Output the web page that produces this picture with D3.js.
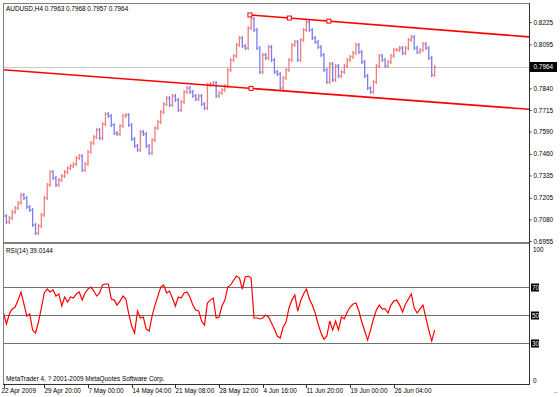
<!doctype html>
<html lang="en">
<head>
<meta charset="UTF-8">
<title>AUDUSD,H4</title>
<script src="https://d3js.org/d3.v7.min.js"></script>
<style>
  html, body { margin: 0; padding: 0; background: #fff; overflow: hidden; }
  svg text { font-family: "Liberation Sans", Arial, sans-serif; font-size: 6.4px; fill: #000; }
</style>
</head>
<body>
<div id="chart-area"></div>

<script>

// ---- data (H4 bars, one entry per plotted bar) ----
const firstOpen = 0.7117;
const closes = [
    0.7100, 0.7065, 0.7088, 0.7123, 0.7146, 0.7175, 0.7222, 0.7204, 0.7152, 0.7135,
    0.7048, 0.7001, 0.7042, 0.7106, 0.7204, 0.7280, 0.7355, 0.7320, 0.7280, 0.7309,
    0.7332, 0.7355, 0.7378, 0.7390, 0.7401, 0.7436, 0.7448, 0.7367, 0.7401, 0.7471,
    0.7523, 0.7558, 0.7599, 0.7552, 0.7633, 0.7691, 0.7680, 0.7628, 0.7581, 0.7575,
    0.7622, 0.7680, 0.7686, 0.7628, 0.7546, 0.7506, 0.7483, 0.7587, 0.7575, 0.7506,
    0.7465, 0.7541, 0.7610, 0.7645, 0.7703, 0.7749, 0.7784, 0.7744, 0.7796, 0.7773,
    0.7715, 0.7761, 0.7819, 0.7842, 0.7819, 0.7796, 0.7778, 0.7796, 0.7749, 0.7726,
    0.7860, 0.7865, 0.7871, 0.7796, 0.7813, 0.7831, 0.7854, 0.7947, 0.8005, 0.8028,
    0.8092, 0.8132, 0.8086, 0.8074, 0.8190, 0.8242, 0.8179, 0.8074, 0.7935, 0.8034,
    0.8016, 0.8080, 0.8005, 0.7935, 0.7923, 0.7842, 0.7900, 0.7947, 0.8005, 0.8092,
    0.8109, 0.8005, 0.8121, 0.8179, 0.8225, 0.8179, 0.8132, 0.8109, 0.8080, 0.8034,
    0.7947, 0.7877, 0.7981, 0.7889, 0.7970, 0.7912, 0.7935, 0.7970, 0.8005, 0.8022,
    0.8045, 0.8092, 0.8051, 0.7993, 0.7912, 0.7842, 0.7819, 0.7877, 0.7970, 0.8028,
    0.8005, 0.7970, 0.7993, 0.8028, 0.8063, 0.8063, 0.8074, 0.8045, 0.8074, 0.8121,
    0.8138, 0.8074, 0.8051, 0.8063, 0.8097, 0.8074, 0.8016, 0.7918, 0.7964
];
const rsiValues = [
    51.3, 43.4, 50.6, 54.2, 55.6, 60.6, 66.4, 57.8, 49.1, 50.6,
    39.0, 36.9, 44.8, 54.9, 65.7, 68.6, 66.4, 67.9, 63.5, 65.0,
    56.3, 62.8, 59.2, 62.8, 62.1, 65.0, 66.4, 60.6, 65.7, 68.6,
    70.0, 67.1, 63.5, 65.7, 71.5, 72.2, 72.2, 61.4, 60.6, 57.0,
    59.9, 63.5, 61.4, 50.6, 41.9, 36.9, 52.7, 47.7, 48.4, 39.7,
    38.3, 49.1, 57.0, 63.5, 70.0, 71.5, 65.7, 67.1, 62.1, 56.3,
    62.8, 62.1, 65.7, 66.4, 62.8, 57.0, 53.4, 52.7, 45.5, 42.6,
    58.5, 60.6, 62.1, 47.7, 48.4, 56.3, 60.6, 70.0, 71.5, 75.1,
    77.9, 76.5, 68.6, 77.2, 77.9, 76.5, 47.7, 47.7, 47.0, 47.7,
    49.8, 48.4, 44.1, 39.7, 34.7, 33.3, 41.2, 44.8, 54.9, 60.6,
    64.3, 52.7, 59.9, 65.0, 68.6, 61.4, 57.0, 51.2, 43.4, 36.9,
    32.5, 34.7, 45.5, 39.0, 45.5, 39.0, 48.4, 47.0, 52.0, 55.6,
    57.8, 58.5, 52.7, 44.8, 38.3, 31.8, 39.0, 47.0, 53.4, 57.0,
    54.2, 54.2, 51.3, 57.0, 59.9, 60.6, 57.0, 52.0, 57.8, 61.4,
    65.0, 54.9, 51.3, 54.2, 57.0, 47.7, 39.0, 31.1, 39.0144
];
const timeTickIdx = [0, 14, 29, 44, 59, 74, 89, 104, 119, 134];
const timeTickLabels = ['22 Apr 2009', '29 Apr 20:00', '7 May 00:00', '14 May 04:00', '21 May 08:00',
    '28 May 12:00', '4 Jun 16:00', '11 Jun 20:00', '19 Jun 00:00', '26 Jun 04:00'];
const priceTicks = [0.8225, 0.8095, 0.7840, 0.7715, 0.7590, 0.7460, 0.7335, 0.7205, 0.7080, 0.6955];
const lastPrice = 0.7964;
const rsiLevels = [70, 50, 30];
const rsiBounds = [100, 0];
// trend lines: two anchor points (bar index, price), drawn as rays to the right
const upperLine = [{ i: 84.6, p: 0.8266 }, { i: 111.7, p: 0.8230 }];
const lowerLine = [{ i: -40, p: 0.7999 }, { i: 210, p: 0.7681 }];
const headerText = 'AUDUSD,H4  0.7963 0.7968 0.7957 0.7964';
const rsiText = 'RSI(14) 39.0144';
const copyText = 'MetaTrader 4, ? 2001-2009 MetaQuotes Software Corp.';

// ---- layout ----
const W = 560, H = 397;
const left = 3, right = 529;
const mainTop = 3, mainBottom = 242;
const rsiTop = 244, rsiBottom = 384;
const step = 2.913;

const svg = d3.select('#chart-area')
    .append('svg')
    .attr('width', W)
    .attr('height', H);

svg.append('rect').attr('width', W).attr('height', H).attr('fill', '#fff');

const x = d3.scaleLinear().domain([0, 180]).range([3.5, 3.5 + 180 * step]);
const y = d3.scaleLinear().domain([0.6955, 0.8225]).range([241, 22]);
const yr = d3.scaleLinear().domain([0, 100]).range([384.2, 245.4]);

const defs = svg.append('defs');
defs.append('clipPath').attr('id', 'clip-main')
    .append('rect').attr('x', left).attr('y', mainTop).attr('width', right - left).attr('height', mainBottom - mainTop);
defs.append('clipPath').attr('id', 'clip-rsi')
    .append('rect').attr('x', left).attr('y', rsiTop).attr('width', right - left).attr('height', rsiBottom - rsiTop);

const main = svg.append('g').attr('clip-path', 'url(#clip-main)');
const rsiG = svg.append('g').attr('clip-path', 'url(#clip-rsi)');

// current price line
main.append('line')
    .attr('x1', left).attr('x2', right)
    .attr('y1', Math.round(y(lastPrice)) + 0.5).attr('y2', Math.round(y(lastPrice)) + 0.5)
    .attr('stroke', '#c8c8c8');

// bars: open -> close stem with open tick left and close tick right
const bars = closes.map((c, i) => ({ i, o: i === 0 ? firstOpen : closes[i - 1], c }));
const barG = main.selectAll('g.bar').data(bars)
    .enter().append('g')
    .attr('class', 'bar')
    .attr('stroke', d => d.c >= d.o ? '#f07c7c' : '#7c7cf0');
barG.append('line')
    .attr('x1', d => x(d.i)).attr('x2', d => x(d.i))
    .attr('y1', d => y(Math.max(d.o, d.c)) - 2)
    .attr('y2', d => y(Math.min(d.o, d.c)) + 2)
    .attr('stroke-width', 1.3);
barG.append('line')
    .attr('x1', d => x(d.i) - 1.5).attr('x2', d => x(d.i))
    .attr('y1', d => y(d.o)).attr('y2', d => y(d.o))
    .attr('stroke-width', 1);
barG.append('line')
    .attr('x1', d => x(d.i)).attr('x2', d => x(d.i) + 1.5)
    .attr('y1', d => y(d.c)).attr('y2', d => y(d.c))
    .attr('stroke-width', 1);

// trend lines
function drawTrend(pts) {
    const [a, b] = pts;
    const slope = (b.p - a.p) / (b.i - a.i);
    const endI = 200;
    main.append('line')
        .attr('x1', x(a.i)).attr('y1', y(a.p))
        .attr('x2', x(endI)).attr('y2', y(a.p + slope * (endI - a.i)))
        .attr('stroke', '#ff0000').attr('stroke-width', 1.6);
    const marks = [a, { i: (a.i + b.i) / 2, p: (a.p + b.p) / 2 }, b];
    main.selectAll(null).data(marks)
        .enter().append('rect')
        .attr('x', d => x(d.i) - 2).attr('y', d => y(d.p) - 2)
        .attr('width', 4).attr('height', 4)
        .attr('fill', '#fff').attr('stroke', '#ff0000').attr('stroke-width', 1);
}
drawTrend(upperLine);
drawTrend(lowerLine);

// RSI levels
rsiG.selectAll('line.level').data(rsiLevels)
    .enter().append('line')
    .attr('class', 'level')
    .attr('x1', left).attr('x2', right)
    .attr('y1', d => Math.round(yr(d)) + 0.5).attr('y2', d => Math.round(yr(d)) + 0.5)
    .attr('stroke', '#707070');

rsiG.append('path')
    .datum(rsiValues)
    .attr('fill', 'none')
    .attr('stroke', '#ff0000')
    .attr('stroke-width', 1.2)
    .attr('d', d3.line().x((d, i) => x(i)).y(d => yr(d)));

// frame
svg.append('line').attr('x1', left + 0.5).attr('x2', left + 0.5).attr('y1', mainTop).attr('y2', rsiBottom).attr('stroke', '#808080');
svg.append('line').attr('x1', left).attr('x2', right).attr('y1', mainTop + 0.5).attr('y2', mainTop + 0.5).attr('stroke', '#808080');
svg.append('rect').attr('x', left).attr('y', mainBottom).attr('width', right - left).attr('height', 2).attr('fill', '#808080');
svg.append('line').attr('x1', right + 0.5).attr('x2', right + 0.5).attr('y1', mainTop).attr('y2', rsiBottom + 0.5).attr('stroke', '#303030');
svg.append('line').attr('x1', left).attr('x2', right + 1).attr('y1', rsiBottom + 0.5).attr('y2', rsiBottom + 0.5).attr('stroke', '#303030');

// price axis
const yAxis = d3.axisRight(y).tickValues(priceTicks).tickSize(2).tickPadding(2).tickFormat(d3.format('.4f'));
svg.append('g')
    .attr('transform', `translate(${right + 0.5},0)`)
    .call(yAxis)
    .call(g => g.select('.domain').remove())
    .call(g => g.selectAll('text').attr('font-size', null).attr('font-family', null))
    .call(g => g.selectAll('line').attr('stroke', '#303030'));

// current price box
const lp = svg.append('g').attr('transform', `translate(${right + 1},${y(lastPrice)})`);
lp.append('rect').attr('x', 0).attr('y', -5).attr('width', 27).attr('height', 10).attr('fill', '#000');
lp.append('text').attr('x', 3.5).attr('dy', '0.35em').style('fill', '#fff').text(d3.format('.4f')(lastPrice));

// RSI axis
svg.selectAll('text.rsib').data(rsiBounds)
    .enter().append('text')
    .attr('class', 'rsib')
    .attr('x', right + 4)
    .attr('y', d => d === 100 ? yr(d) + 4 : yr(d) - 3)
    .attr('dy', '0.35em')
    .text(d => d);
const lv = svg.selectAll('g.lvl').data(rsiLevels)
    .enter().append('g')
    .attr('class', 'lvl')
    .attr('transform', d => `translate(${right + 2},${Math.round(yr(d)) + 0.5})`);
lv.append('rect').attr('x', 0).attr('y', -4).attr('width', 8).attr('height', 8).attr('fill', '#000');
lv.append('text').attr('x', 1).attr('dy', '0.35em').style('fill', '#fff').text(d => d);

// time axis
const tg = svg.selectAll('g.tt').data(timeTickIdx)
    .enter().append('g')
    .attr('class', 'tt')
    .attr('transform', d => `translate(${Math.round(x(d)) + 0.5},0)`);
tg.append('line').attr('y1', rsiBottom).attr('y2', rsiBottom + 4).attr('stroke', '#303030');
tg.append('text')
    .attr('x', (d, i) => i === 0 ? -3 : 0)
    .attr('y', 391)
    .attr('dy', '0.35em')
    .text((d, i) => timeTickLabels[i]);

// labels
svg.append('text').attr('x', 6).attr('y', 9).attr('dy', '0.35em').text(headerText);
svg.append('text').attr('x', 6).attr('y', 251).attr('dy', '0.35em').text(rsiText);
svg.append('text').attr('x', 6).attr('y', 378.5).attr('dy', '0.35em').text(copyText);
svg.append('text').attr('x', 553).attr('y', 392).attr('dy', '0.35em').style('fill', '#606060').text('\u2190');

</script>
</body>
</html>
